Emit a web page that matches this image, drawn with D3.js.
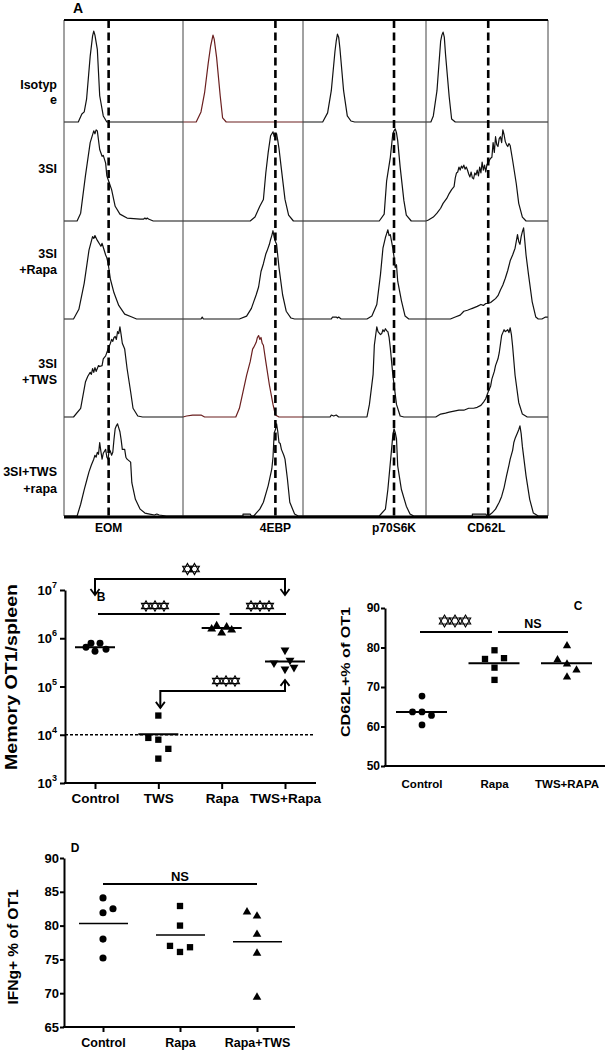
<!DOCTYPE html>
<html><head><meta charset="utf-8">
<script src="https://cdn.jsdelivr.net/npm/d3@7"></script>
<style>
body{margin:0;background:#fff;}
svg{display:block;font-family:"Liberation Sans",Arial,sans-serif;font-weight:bold;}
</style></head><body>
<svg id="c" width="605" height="1050"></svg>
<script>
// ---------------- DATA ----------------
// Panel A: flow histograms, [channel 0-100, % of max count]
const markersA = ["EOM", "4EBP", "p70S6K", "CD62L"];
const conditionsA = [["Isotyp", "e"], ["3SI"], ["3SI", "+Rapa"], ["3SI", "+TWS"], ["3SI+TWS", "+rapa"]];
const gateA = [37.5, 77, 74, 51];

const histEOM = [
  [[0,0],[12,0],[15,8],[17,10],[19,23],[22,65],[24,85],[25,90],[26,86],[28,72],[30,26],[33,6],[36,0],[100,0]],
  [[0,0],[11,0],[14,8],[18,46],[22,80],[25,92],[26,89],[27,93],[28,92],[30,73],[32,66],[33,67],[35,59],[36,46],[38,39],[40,32],[43,15],[47,7],[53,3],[64,2],[67,2],[68,3],[69,2],[70,3],[71,2],[75,0],[100,0]],
  [[0,0],[8,0],[12.5,10],[17,37],[21,71],[24,85],[25,83],[26,86],[28,81],[30,77],[31,75],[32,78],[33,74],[35,66],[36,63],[37,58],[39,41],[42,27],[46,14],[51,5],[57,2],[61,0],[100,0]],
  [[0,0],[8,0],[14,9],[18,36],[20,42],[22,46],[23,44],[24,50],[25,46],[26,51],[27,47],[29,53],[30,52],[32,53],[33,60],[35,63],[37,70],[38,73],[39,76],[40,80],[41,78],[42,82],[43,83],[44,80],[45,88],[46,86],[47,93],[48,85],[49,76],[51,70],[53,50],[56,26],[58,9],[62,1],[66,0],[100,0]],
  [[0,0],[11,0],[14,12],[17,27],[19,36],[21,45],[23,52],[25,58],[26,62],[27,60],[28,65],[29,63],[30,75],[31,66],[32,58],[33,64],[35,68],[36,60],[37,58],[38,68],[39,66],[40,62],[41,65],[42,78],[43,89],[44,92],[45,94],[46,90],[47,86],[48,78],[49,68],[51,68],[52,60],[53,58],[56,55],[57,34],[60,17],[64,7],[68,3],[72,2],[76,1],[78,2],[80,1],[86,0],[100,0]]
];
const hist4EBP = [
  [[0,0],[11,0],[15,10],[18,29],[21,58],[23,75],[25,86],[26,82],[28,64],[31,26],[33,4],[36,0],[100,0]],
  [[0,0],[56,0],[60,4],[64,15],[67,22],[69,49],[71,70],[73,87],[74,89],[75,91],[76,86],[77,88],[78,89],[79,82],[80,74],[82,53],[85,22],[88,6],[92,0],[100,0]],
  [[0,0],[15,0],[16,2],[17,0],[47,0],[53,3],[57,11],[61,25],[63,33],[65,49],[67,57],[69,67],[70,70],[72,77],[73,82],[74,86],[75,91],[76,84],[77,80],[78,77],[80,53],[83,25],[86,8],[90,1],[93,0],[100,0]],
  [[0,0],[3,1],[8,2],[15,2],[18,0],[44,0],[47,9],[50,26],[53,43],[56,57],[58,70],[59,72],[61,77],[62,82],[63,84],[64,80],[65,82],[66,76],[67,74],[69,57],[72,33],[75,13],[77,2],[80,0],[100,0]],
  [[0,0],[50,0],[50,2],[56,2],[57,0],[59,0],[61,3],[64,7],[67,14],[71,31],[74,48],[75,60],[76,85],[77,88],[78,94],[79,86],[80,75],[81,74],[82,68],[84,62],[85,58],[87,38],[89,14],[93,2],[96,0],[100,0]]
];
const histP70 = [
  [[0,0],[16,0],[20,9],[23,31],[26,70],[27,80],[28,87],[29,84],[30,73],[33,31],[36,6],[39,1],[42,0],[100,0]],
  [[0,0],[62,0],[66,7],[68,41],[71,65],[73,89],[74,92],[75,94],[76,90],[77,82],[79,55],[82,21],[84,6],[88,0],[100,0]],
  [[0,0],[23,0],[24,2],[27,2],[28,1],[29,2],[31,0],[52,0],[56,3],[60,15],[63,46],[65,73],[67,84],[68,88],[69,92],[70,86],[71,87],[72,80],[73,73],[74,64],[75,53],[76,56],[77,39],[80,19],[83,3],[86,0],[100,0]],
  [[0,0],[22,0],[23,2],[25,1],[27,2],[29,0],[52,0],[54,13],[57,44],[58,74],[60,93],[61,88],[63,85],[64,86],[65,90],[66,88],[67,91],[68,89],[69,88],[70,82],[71,71],[73,44],[76,13],[79,1],[82,0],[100,0]],
  [[0,0],[62,0],[67,7],[69,27],[72,68],[73,82],[74,89],[75,85],[76,79],[77,51],[80,27],[84,10],[87,2],[90,0],[100,0]]
];
const histCD62L = [
  [[0,0],[4,0],[6,6],[9,31],[12,80],[13,86],[14,89],[15,84],[16,67],[19,25],[21,3],[24,0],[100,0]],
  [[0,0],[2,1],[6,4],[9,8],[12,13],[14,18],[17,23],[19,28],[21,32],[23,35],[24,44],[25,49],[26,50],[27,55],[28,52],[29,56],[30,54],[31,57],[32,53],[33,55],[34,52],[35,48],[36,45],[37,50],[38,44],[39,43],[40,49],[41,47],[42,52],[43,46],[44,55],[45,49],[46,60],[47,52],[48,57],[49,50],[50,58],[51,59],[52,62],[53,64],[54,65],[55,80],[56,70],[57,86],[58,78],[59,76],[60,84],[61,86],[62,80],[63,93],[64,88],[65,81],[66,78],[67,76],[68,79],[69,77],[71,62],[74,38],[76,18],[79,4],[82,0],[100,0]],
  [[0,0],[20,0],[24,2],[28,4],[31,8],[34,9],[36,10],[38,11],[40,12],[42,13],[45,15],[47,14],[49,16],[51,16],[53,17],[55,19],[57,21],[59,24],[61,30],[63,35],[65,42],[67,50],[69,60],[71,66],[73,73],[74,80],[75,87],[76,80],[77,77],[78,85],[79,90],[80,94],[81,80],[82,66],[84,46],[87,18],[90,2],[92,0],[95,0],[98,2],[100,2]],
  [[0,0],[8,0],[12,3],[16,4],[19,5],[23,6],[27,7],[31,7],[35,9],[39,9],[42,10],[45,12],[47,15],[49,19],[51,26],[53,32],[54,39],[56,47],[57,53],[59,60],[60,66],[61,75],[62,84],[63,87],[64,90],[65,88],[66,89],[67,90],[68,87],[69,92],[70,85],[71,73],[73,43],[76,15],[79,3],[83,0],[100,0]],
  [[0,0],[38,0],[38,2],[49,2],[50,0],[51,0],[54,3],[57,7],[60,14],[62,20],[64,29],[66,41],[68,52],[69,58],[71,67],[72,75],[73,79],[75,85],[76,88],[77,92],[78,84],[79,71],[82,41],[85,17],[88,3],[92,0],[100,0]]
];
const histRedRows = [[1,0],[1,3]]; // [column, row] drawn in dark red

// Panel B: Memory OT1 / spleen
const catsB = ["Control", "TWS", "Rapa", "TWS+Rapa"];
const valuesB = [
  [6.5e5, 7.9e5, 5.4e5, 7.9e5, 5.9e5],
  [2.5e4, 8.6e3, 7.9e3, 5.1e3, 3.2e3],
  [1.55e6, 1.8e6, 1.29e6, 1.7e6, 1.48e6],
  [5.7e5, 3.07e5, 3.5e5, 2.3e5, 2.5e5]
];
const jitterB = [[-1.8,-0.8,0,1,2.2],[0,-2,0,2,0],[-2,-1,0,1,2],[0,-2.2,1,0,1.8]];
const mediansB = [6.5e5, 1.02e4, 1.63e6, 3.3e5];
const ticksB = [1e3, 1e4, 1e5, 1e6, 1e7];
const limitB = 1e4;

// Panel C: CD62L+ % of OT1
const catsC = ["Control", "Rapa", "TWS+RAPA"];
const valuesC = [
  [67.7, 63.7, 63.7, 62.8, 60.4],
  [79.3, 77.1, 77.3, 74.9, 71.8],
  [80.4, 76.9, 75.8, 74.3, 72.5]
];
const jitterC = [[0,-1,0,1,0],[0,-1,1,0,0],[0,-1,0,1,0]];
const mediansC = [63.7, 76.0, 76.0];
const ticksC = [50, 60, 70, 80, 90];

// Panel D: IFNg+ % of OT1
const catsD = ["Control", "Rapa", "Rapa+TWS"];
const valuesD = [
  [84.1, 81.9, 82.5, 78.0, 75.2],
  [82.9, 80.0, 77.0, 76.1, 76.8],
  [82.0, 81.4, 78.7, 75.9, 69.4]
];
const jitterD = [[0,0,1,0,0],[0,0,-1,0,1],[-1,0,0,0,0]];
const mediansD = [80.3, 78.6, 77.6];
const ticksD = [65, 70, 75, 80, 85, 90];

// ---------------- DRAW ----------------
const svg = d3.select("#c");

// ===== Panel A =====
const colEdges = [64, 183, 303, 426, 548];
const rowBase = [122, 221, 319, 417, 516];
const topA = 20;
const histsA = [histEOM, hist4EBP, histP70, histCD62L];
const gA = svg.append("g");

histsA.forEach((col, ci) => {
  const x = d3.scaleLinear().domain([0, 100]).range([colEdges[ci], colEdges[ci + 1]]);
  col.forEach((h, ri) => {
    const base = rowBase[ri];
    const prev = ri === 0 ? topA : rowBase[ri - 1];
    const y = d3.scaleLinear().domain([0, 100]).range([base, prev + 1]);
    const red = histRedRows.some(d => d[0] === ci && d[1] === ri);
    gA.append("path")
      .attr("d", d3.line().x(d => x(d[0])).y(d => y(d[1]))(h))
      .attr("fill", "none")
      .attr("stroke", red ? "#6a1f1f" : "#111")
      .attr("stroke-width", 1.2)
      .attr("stroke-linejoin", "round");
  });
  gA.append("line")
    .attr("x1", x(gateA[ci])).attr("x2", x(gateA[ci]))
    .attr("y1", topA).attr("y2", rowBase[4])
    .attr("stroke", "#000").attr("stroke-width", 2.6)
    .attr("stroke-dasharray", "8,4.5");
  gA.append("text")
    .attr("x", x(gateA[ci]) + (ci === 3 ? -2 : 0)).attr("y", 532)
    .attr("text-anchor", "middle").attr("font-size", 12)
    .text(markersA[ci]);
});
colEdges.forEach(xv => {
  gA.append("line").attr("x1", xv).attr("x2", xv).attr("y1", topA).attr("y2", rowBase[4])
    .attr("stroke", "#444").attr("stroke-width", 1);
});
gA.append("line").attr("x1", colEdges[0]).attr("x2", colEdges[4]).attr("y1", topA).attr("y2", topA)
  .attr("stroke", "#000").attr("stroke-width", 2);
gA.append("line").attr("x1", colEdges[0]).attr("x2", colEdges[4]).attr("y1", rowBase[4] + 1).attr("y2", rowBase[4] + 1)
  .attr("stroke", "#000").attr("stroke-width", 3);
const rowLabelY = [[89, 104], [173], [258, 274], [368, 384], [476, 493]];
conditionsA.forEach((lines, ri) => {
  lines.forEach((t, li) => {
    gA.append("text").attr("x", 57).attr("y", rowLabelY[ri][li])
      .attr("text-anchor", "end").attr("font-size", 12.5).text(t);
  });
});
gA.append("text").attr("x", 78).attr("y", 13).attr("text-anchor", "middle").attr("font-size", 14).text("A");

// helpers
function symbolPath(type, size) { return d3.symbol().type(type).size(size)(); }
function hexagram(r) {
  const pts = a => d3.range(3).map(k => {
    const t = (a + k * 120) * Math.PI / 180;
    return [r * Math.cos(t), r * Math.sin(t)];
  });
  const tri = p => `M${p[0][0]},${p[0][1]}L${p[1][0]},${p[1][1]}L${p[2][0]},${p[2][1]}Z`;
  return tri(pts(-90)) + tri(pts(90));
}
function drawStars(g, cx, cy, n, step, r) {
  for (let k = 0; k < n; k++) {
    const sx = cx + (k - (n - 1) / 2) * step;
    g.append("path").attr("d", hexagram(r)).attr("transform", `translate(${sx},${cy})`)
      .attr("fill", "#fff").attr("fill-opacity", 0).attr("stroke", "#000").attr("stroke-width", 1.1)
      .attr("stroke-linejoin", "miter");
  }
}
function arrowHead(g, x, tipY, dir) {
  g.append("path")
    .attr("d", `M${x - 4.5},${tipY - dir * 6}L${x},${tipY}L${x + 4.5},${tipY - dir * 6}`)
    .attr("fill", "none").attr("stroke", "#000").attr("stroke-width", 1.8);
}

// ===== Panel B =====
const gB = svg.append("g");
const xB = d3.scalePoint().domain(catsB).range([95, 285]);
const yB = d3.scaleLog().domain([1e3, 1e7]).range([783, 590]);
const bx0 = 65, bx1 = 316;

const axB = gB.append("g").attr("transform", `translate(${bx0},0)`)
  .call(d3.axisLeft(yB).tickValues(ticksB).tickFormat("").tickSize(5).tickSizeOuter(0));
axB.select(".domain").attr("stroke-width", 2);
axB.selectAll(".tick line").attr("stroke-width", 2);
ticksB.forEach(t => {
  gB.append("text").attr("x", 52).attr("y", yB(t) + 5).attr("text-anchor", "end").attr("font-size", 13).text("10");
  gB.append("text").attr("x", 52).attr("y", yB(t) - 2).attr("font-size", 9).text(Math.round(Math.log10(t)));
});
gB.append("line").attr("x1", bx0 - 1).attr("x2", bx1).attr("y1", yB(1e3)).attr("y2", yB(1e3))
  .attr("stroke", "#000").attr("stroke-width", 2);
const axBx = gB.append("g").attr("transform", `translate(0,${yB(1e3)})`)
  .call(d3.axisBottom(xB).tickSize(6).tickSizeOuter(0));
axBx.select(".domain").remove();
axBx.selectAll(".tick line").attr("stroke-width", 2);
axBx.selectAll(".tick text").attr("font-size", 13.5).attr("font-family", "Liberation Sans, Arial, sans-serif")
  .attr("font-weight", "bold").attr("fill", "#000").attr("y", 10).attr("dy", "0.71em");
gB.append("line").attr("x1", bx0).attr("x2", bx1 - 3).attr("y1", yB(limitB)).attr("y2", yB(limitB))
  .attr("stroke", "#000").attr("stroke-width", 1.4).attr("stroke-dasharray", "3,2");
gB.append("text").attr("transform", `translate(17,677) rotate(-90)`).attr("text-anchor", "middle")
  .attr("font-size", 16).attr("textLength", 186).attr("lengthAdjust", "spacingAndGlyphs").text("Memory OT1/spleen");
const symB = [d3.symbolCircle, d3.symbolSquare, d3.symbolTriangle, d3.symbolTriangle];
const sizeB = [38, 40, 34, 34];
valuesB.forEach((vals, ci) => {
  vals.forEach((v, i) => {
    gB.append("path").attr("d", symbolPath(symB[ci], sizeB[ci]))
      .attr("transform", `translate(${xB(catsB[ci]) + jitterB[ci][i] * 5},${yB(v)})${ci === 3 ? " rotate(180)" : ""}`)
      .attr("fill", "#000");
  });
  gB.append("line").attr("x1", xB(catsB[ci]) - 20).attr("x2", xB(catsB[ci]) + 20)
    .attr("y1", yB(mediansB[ci])).attr("y2", yB(mediansB[ci])).attr("stroke", "#000").attr("stroke-width", 2);
});
const yTop = yB(1.7e7), yTip = yB(7.9e6);
gB.append("path").attr("d", `M${xB("Control")},${yTip}V${yTop}H${xB("TWS+Rapa")}V${yTip}`)
  .attr("fill", "none").attr("stroke", "#000").attr("stroke-width", 2);
arrowHead(gB, xB("Control"), yTip, 1);
arrowHead(gB, xB("TWS+Rapa"), yTip, 1);
drawStars(gB, 191, 569, 2, 7, 5.6);
const yMid = yB(3.18e6);
gB.append("line").attr("x1", 98).attr("x2", xB("Rapa") - 2).attr("y1", yMid).attr("y2", yMid).attr("stroke", "#000").attr("stroke-width", 2);
gB.append("line").attr("x1", xB("Rapa") + 8).attr("x2", xB("TWS+Rapa") + 1).attr("y1", yMid).attr("y2", yMid).attr("stroke", "#000").attr("stroke-width", 2);
drawStars(gB, 155, 606, 3, 9, 5.2);
drawStars(gB, 260, 606, 3, 9, 5.2);
const yLow = yB(8.07e4), yLowTipL = yB(3.6e4), yLowTipR = yB(1.37e5);
gB.append("path").attr("d", `M${xB("TWS") + 2},${yLowTipL}V${yLow}H${xB("TWS+Rapa")}V${yLowTipR}`)
  .attr("fill", "none").attr("stroke", "#000").attr("stroke-width", 2);
arrowHead(gB, xB("TWS") + 2, yLowTipL, 1);
arrowHead(gB, xB("TWS+Rapa"), yLowTipR, -1);
drawStars(gB, 226, 681, 3, 9, 5.2);
gB.append("text").attr("x", 101).attr("y", 601).attr("text-anchor", "middle").attr("font-size", 12).text("B");

// ===== Panel C =====
const gC = svg.append("g");
const xC = d3.scalePoint().domain(catsC).range([422, 567]);
const yC = d3.scaleLinear().domain([50, 90]).range([766, 608]);
const axC = gC.append("g").attr("transform", "translate(385,0)")
  .call(d3.axisLeft(yC).tickValues(ticksC).tickSize(4).tickSizeOuter(0));
axC.select(".domain").attr("stroke-width", 2);
axC.selectAll(".tick line").attr("stroke-width", 2);
axC.selectAll(".tick text").attr("font-size", 12).attr("font-family", "Liberation Sans, Arial, sans-serif")
  .attr("font-weight", "bold").attr("fill", "#000").attr("x", -5);
gC.append("line").attr("x1", 384).attr("x2", 605).attr("y1", yC(50)).attr("y2", yC(50)).attr("stroke", "#000").attr("stroke-width", 2);
catsC.forEach(c => {
  gC.append("text").attr("x", xC(c)).attr("y", 788).attr("text-anchor", "middle").attr("font-size", 11.5).text(c);
});
gC.append("text").attr("transform", "translate(350,672) rotate(-90)").attr("text-anchor", "middle")
  .attr("font-size", 12.5).attr("textLength", 130).attr("lengthAdjust", "spacingAndGlyphs").text("CD62L+% of OT1");
const symC = [d3.symbolCircle, d3.symbolSquare, d3.symbolTriangle];
const sizeC = [36, 40, 30];
valuesC.forEach((vals, ci) => {
  vals.forEach((v, i) => {
    gC.append("path").attr("d", symbolPath(symC[ci], sizeC[ci]))
      .attr("transform", `translate(${xC(catsC[ci]) + jitterC[ci][i] * 9.5},${yC(v)})`).attr("fill", "#000");
  });
  gC.append("line").attr("x1", xC(catsC[ci]) - 26).attr("x2", xC(catsC[ci]) + 25)
    .attr("y1", yC(mediansC[ci])).attr("y2", yC(mediansC[ci])).attr("stroke", "#000").attr("stroke-width", 2);
});
const yBrC = yC(83.9);
gC.append("line").attr("x1", 420).attr("x2", 492).attr("y1", yBrC).attr("y2", yBrC).attr("stroke", "#000").attr("stroke-width", 2);
gC.append("line").attr("x1", 498).attr("x2", 568).attr("y1", yBrC).attr("y2", yBrC).attr("stroke", "#000").attr("stroke-width", 2);
drawStars(gC, 455, 621, 3, 10.5, 6);
gC.append("text").attr("x", 533).attr("y", 628).attr("text-anchor", "middle").attr("font-size", 12.5).text("NS");
gC.append("text").attr("x", 578).attr("y", 610).attr("text-anchor", "middle").attr("font-size", 12).text("C");

// ===== Panel D =====
const gD = svg.append("g");
const xD = d3.scalePoint().domain(catsD).range([103, 257]);
const yD = d3.scaleLinear().domain([65, 90]).range([1027, 858]);
const axD = gD.append("g").attr("transform", "translate(64,0)")
  .call(d3.axisLeft(yD).tickValues(ticksD).tickSize(4).tickSizeOuter(0));
axD.select(".domain").attr("stroke-width", 2);
axD.selectAll(".tick line").attr("stroke-width", 2);
axD.selectAll(".tick text").attr("font-size", 13).attr("font-family", "Liberation Sans, Arial, sans-serif")
  .attr("font-weight", "bold").attr("fill", "#000").attr("x", -5);
gD.append("line").attr("x1", 63).attr("x2", 295).attr("y1", yD(65)).attr("y2", yD(65)).attr("stroke", "#000").attr("stroke-width", 2);
const axDx = gD.append("g").attr("transform", `translate(0,${yD(65)})`)
  .call(d3.axisBottom(xD).tickSize(5).tickSizeOuter(0));
axDx.select(".domain").remove();
axDx.selectAll(".tick line").attr("stroke-width", 2);
axDx.selectAll(".tick text").attr("font-size", 12.5).attr("font-family", "Liberation Sans, Arial, sans-serif")
  .attr("font-weight", "bold").attr("fill", "#000").attr("y", 11).attr("dy", "0.71em");
gD.append("text").attr("transform", "translate(18,947) rotate(-90)").attr("text-anchor", "middle")
  .attr("font-size", 15).attr("textLength", 115).attr("lengthAdjust", "spacingAndGlyphs").text("IFNg+ % of OT1");
const symD = [d3.symbolCircle, d3.symbolSquare, d3.symbolTriangle];
const sizeD = [40, 40, 32];
valuesD.forEach((vals, ci) => {
  vals.forEach((v, i) => {
    gD.append("path").attr("d", symbolPath(symD[ci], sizeD[ci]))
      .attr("transform", `translate(${xD(catsD[ci]) + jitterD[ci][i] * 10},${yD(v)})`).attr("fill", "#000");
  });
  gD.append("line").attr("x1", xD(catsD[ci]) - 24).attr("x2", xD(catsD[ci]) + 25)
    .attr("y1", yD(mediansD[ci])).attr("y2", yD(mediansD[ci])).attr("stroke", "#000").attr("stroke-width", 1.6);
});
const yBrD = yD(86.15);
gD.append("line").attr("x1", xD("Control")).attr("x2", xD("Rapa+TWS")).attr("y1", yBrD).attr("y2", yBrD).attr("stroke", "#000").attr("stroke-width", 2);
gD.append("text").attr("x", xD("Rapa")).attr("y", 881).attr("text-anchor", "middle").attr("font-size", 13).text("NS");
gD.append("text").attr("x", 75).attr("y", 852).attr("text-anchor", "middle").attr("font-size", 12).text("D");
</script>
</body></html>
